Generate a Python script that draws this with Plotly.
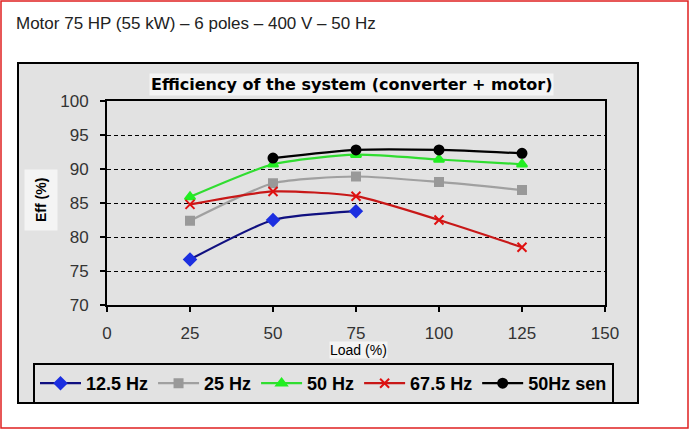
import plotly.graph_objects as go

# --- data ---
load = [25, 50, 75, 100, 125]
eff_12_5 = [76.7, 82.5, 83.8]
eff_25 = [82.4, 87.9, 88.9, 88.1, 86.9]
eff_50 = [85.9, 90.7, 92.1, 91.4, 90.7]
eff_67_5 = [84.8, 86.7, 86.0, 82.5, 78.5]
eff_50_sen = [91.6, 92.8, 92.8, 92.3]

x_ticks = [0, 25, 50, 75, 100, 125, 150]
y_ticks = [70, 75, 80, 85, 90, 95, 100]

# --- page geometry (pixels) ---
W, H = 689, 430
PL, PR, PT, PB = 107, 605, 101, 305  # plot area edges
BG = "#e2e2e2"


def px(x):
    return (x - PL) / (PR - PL)


def py(y):
    return (PB - y) / (PB - PT)


fig = go.Figure()

series = [
    ("12.5 Hz", load[:3], eff_12_5, "#101080", "#1c2fe0", "diamond", 9),
    ("25 Hz", load, eff_25, "#a0a0a0", "#999999", "square", 8),
    ("50 Hz", load, eff_50, "#30dd30", "#22ee22", "triangle-up", 9),
    ("67.5 Hz", load, eff_67_5, "#c81818", "#e01010", "x-thin", 9),
    ("50Hz sen", load[1:], eff_50_sen, "#000000", "#000000", "circle", 9),
]

for name, xs, ys, lc, mc, sym, ms in series:
    fig.add_trace(go.Scatter(
        x=xs, y=ys, name=name, mode="lines+markers",
        line=dict(color=lc, width=2.2, shape="spline", smoothing=0.6),
        marker=dict(symbol=sym, size=ms, color=mc,
                    line=dict(color=mc, width=2)),
    ))

shapes = [
    # red outer frame
    dict(type="rect", xref="paper", yref="paper",
         x0=px(1), x1=px(688), y0=py(428), y1=py(1),
         line=dict(color="#e02020", width=1.5), fillcolor="white", layer="below"),
    # grey chart area
    dict(type="rect", xref="paper", yref="paper",
         x0=px(18), x1=px(638), y0=py(403), y1=py(63),
         line=dict(color="black", width=2), fillcolor=BG, layer="below"),
]

annotations = [
    dict(text="Motor 75 HP (55 kW) – 6 poles – 400 V – 50 Hz",
         xref="paper", yref="paper", x=px(14), y=py(23),
         xanchor="left", yanchor="middle", showarrow=False,
         font=dict(family="Arial", size=17, color="#222222")),
    dict(text="<b>Efficiency of the system (converter + motor)</b>",
         xref="paper", yref="paper", x=px(351), y=py(84),
         xanchor="center", yanchor="middle", showarrow=False,
         bgcolor="#f4f4f4", borderpad=1,
         font=dict(family="DejaVu Sans, Verdana", size=16, color="black")),
    dict(text="Load (%)",
         xref="paper", yref="paper", x=px(358), y=py(350),
         xanchor="center", yanchor="middle", showarrow=False,
         bgcolor="#f4f4f4", borderpad=0,
         font=dict(family="Arial", size=14, color="black")),
    dict(text="<b>Eff (%)</b>", textangle=-90,
         xref="paper", yref="paper", x=px(41), y=py(200),
         xanchor="center", yanchor="middle", showarrow=False,
         bgcolor="#f4f4f4", borderpad=8,
         font=dict(family="Arial", size=14, color="black")),
]

fig.update_layout(
    width=W, height=H,
    margin=dict(l=PL, r=W - PR, t=PT, b=H - PB),
    paper_bgcolor="white", plot_bgcolor=BG,
    shapes=shapes, annotations=annotations,
    showlegend=True,
    legend=dict(orientation="h", x=px(33), y=py(363),
                xanchor="left", yanchor="top",
                bgcolor=BG, bordercolor="black", borderwidth=2,
                font=dict(family="Arial", size=18, color="black", weight="bold"),
                itemwidth=41, tracegroupgap=0),
)

fig.update_xaxes(
    range=[0, 150], tickvals=x_ticks, showgrid=False, zeroline=False,
    showline=True, linecolor="black", linewidth=2, mirror=True,
    ticks="outside", ticklen=5, tickcolor="black", tickwidth=1.5,
    ticklabelstandoff=7,
    tickfont=dict(family="Arial", size=17, color="#333333"),
)
fig.update_yaxes(
    range=[70, 100], tickvals=y_ticks, zeroline=False,
    showgrid=True, gridcolor="black", gridwidth=1, griddash="4px,3px",
    showline=True, linecolor="black", linewidth=2, mirror=True,
    ticks="outside", ticklen=5, tickcolor="black", tickwidth=1.5,
    ticklabelstandoff=8,
    tickfont=dict(family="Arial", size=17, color="#333333"),
)

fig.write_html("out.html", config={"displayModeBar": False},
               post_script="document.body.style.margin='0';")
